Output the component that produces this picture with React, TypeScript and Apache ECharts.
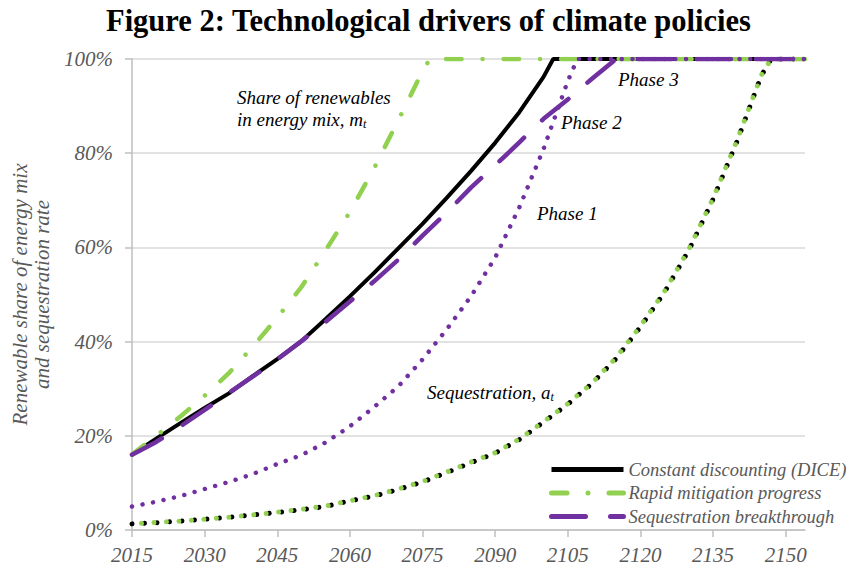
import React, { useEffect, useRef } from "react";
import * as echarts from "echarts";

// ---- Data ----
const xTickYears = [2015, 2030, 2045, 2060, 2075, 2090, 2105, 2120, 2135, 2150];

// Share of renewables in energy mix, m_t
const diceRenewYears = [2015, 2020, 2025, 2030, 2035, 2040, 2045, 2050, 2055, 2060, 2065, 2070, 2075, 2080, 2085, 2090, 2095, 2100, 2102, 2154];
const diceRenewVals = [16, 19.4, 22.7, 25.9, 29.0, 32.7, 36.3, 40.1, 44.8, 49.6, 54.6, 59.8, 65.0, 70.5, 76.2, 82.2, 88.7, 96.2, 100, 100];

const rapidRenewYears = [2015, 2020, 2025, 2030, 2035, 2040, 2045, 2050, 2055, 2060, 2065, 2070, 2075, 2076.5, 2154];
const rapidRenewVals = [16, 20.0, 24.1, 28.5, 33.3, 39.0, 45.1, 51.6, 59.4, 67.5, 76.8, 87.0, 97.4, 100, 100];

const breakRenewYears = [2015, 2020, 2025, 2030, 2035, 2040, 2045, 2050, 2055, 2060, 2065, 2070, 2075, 2080, 2085, 2090, 2095, 2100, 2105, 2110, 2115, 2154];
const breakRenewVals = [16, 18.7, 22.0, 25.5, 29.1, 32.6, 36.2, 40.1, 44.2, 48.5, 52.8, 57.4, 62.5, 67.4, 72.7, 77.4, 82.3, 87.3, 91.4, 95.8, 100, 100];

// Sequestration rate, a_t
const diceSeqYears = [2015, 2020, 2025, 2030, 2035, 2040, 2045, 2050, 2055, 2060, 2065, 2070, 2075, 2080, 2085, 2090, 2095, 2100, 2105, 2110, 2115, 2120, 2125, 2130, 2135, 2140, 2145, 2147, 2154];
const diceSeqVals = [1.3, 1.55, 1.9, 2.3, 2.7, 3.2, 3.7, 4.3, 5.0, 6.2, 7.2, 8.6, 10.2, 12.2, 14.3, 16.3, 19.2, 22.9, 26.7, 31.1, 36.4, 43.1, 50.5, 59.4, 70.2, 82.6, 96.5, 100, 100];

const rapidSeqYears = [2015, 2020, 2025, 2030, 2035, 2040, 2045, 2050, 2055, 2060, 2065, 2070, 2075, 2080, 2085, 2090, 2095, 2100, 2105, 2110, 2115, 2120, 2125, 2130, 2135, 2140, 2145, 2147, 2154];
const rapidSeqVals = [1.3, 1.6, 1.9, 2.3, 2.7, 3.2, 3.8, 4.4, 5.1, 6.2, 7.3, 8.7, 10.3, 12.3, 14.4, 16.4, 19.3, 23.0, 26.8, 31.2, 36.6, 43.3, 50.7, 59.6, 70.4, 82.8, 96.6, 100, 100];

const breakSeqYears = [2015, 2020, 2025, 2030, 2035, 2040, 2045, 2050, 2055, 2060, 2065, 2070, 2075, 2080, 2085, 2090, 2095, 2100, 2105, 2107, 2154];
const breakSeqVals = [5, 6.0, 7.2, 8.7, 10.2, 11.9, 14.0, 15.9, 18.6, 22.0, 26.1, 30.5, 36.2, 42.6, 49.6, 57.8, 68.5, 80.9, 95.3, 100, 100];

const legendNames = ["Constant discounting (DICE)", "Rapid mitigation progress", "Sequestration breakthrough"];

const pairs = (xs: number[], ys: number[]) => xs.map((x, i) => [x, ys[i]]);

const BLACK = "#000000";
const GREEN = "#92D050";
const PURPLE = "#7030A0";
const SERIF = "Liberation Serif";
const GREY_TEXT = "#595959";

export default function App() {
  const ref = useRef<HTMLDivElement>(null);

  useEffect(() => {
    if (!ref.current) return;
    const chart = echarts.init(ref.current, null, { renderer: "svg" });

    const annot = (x: number, y: number, text: string, extra: any = {}) => ({
      type: "text",
      x,
      y,
      z: 100,
      style: {
        text,
        fontFamily: SERIF,
        fontStyle: "italic",
        fontSize: 19,
        fill: "#000",
        verticalAlign: "middle",
        lineHeight: 22,
        rich: {
          sub: { fontSize: 12, fontStyle: "italic", fontFamily: SERIF, lineHeight: 12, verticalAlign: "bottom", fill: "#000" },
        },
        ...extra,
      },
    });

    const option: any = {
      animation: false,
      backgroundColor: "#ffffff",
      title: {
        text: "Figure 2: Technological drivers of climate policies",
        left: 101,
        top: 0,
        textStyle: { fontFamily: SERIF, fontWeight: "bold", fontSize: 30.5, color: "#000" },
      },
      grid: { left: 132, right: 42, top: 59, bottom: 39, containLabel: false },
      legend: {
        data: legendNames,
        orient: "vertical",
        left: 547,
        top: 457,
        itemWidth: 72,
        itemHeight: 14,
        itemGap: 4.5,
        padding: [3, 2, 3, 2],
        backgroundColor: "#ffffff",
        itemStyle: { opacity: 0 },
        lineStyle: { width: 5 },
        textStyle: { fontFamily: SERIF, fontStyle: "italic", fontSize: 18.5, color: GREY_TEXT },
      },
      xAxis: {
        type: "value",
        min: 2015,
        max: 2154,
        axisLine: { show: true, lineStyle: { color: "#bfbfbf", width: 1.5 } },
        axisTick: { show: true, length: 7, customValues: xTickYears, lineStyle: { color: "#bfbfbf", width: 1.5 } },
        axisLabel: {
          customValues: xTickYears,
          formatter: (v: number) => String(v),
          margin: 14,
          fontFamily: SERIF,
          fontStyle: "italic",
          fontSize: 21,
          color: GREY_TEXT,
        },
        splitLine: { show: false },
      },
      yAxis: {
        type: "value",
        min: 0,
        max: 100,
        interval: 20,
        name: "Renewable share of energy mix\nand sequestration rate",
        nameLocation: "middle",
        nameRotate: 90,
        nameGap: 59,
        nameTextStyle: { fontFamily: SERIF, fontStyle: "italic", fontSize: 21, color: GREY_TEXT, lineHeight: 22 },
        axisLine: { show: true, lineStyle: { color: "#bfbfbf", width: 1.5 } },
        axisTick: { show: true, length: 7, lineStyle: { color: "#bfbfbf", width: 1.5 } },
        axisLabel: {
          formatter: "{value}%",
          margin: 19,
          fontFamily: SERIF,
          fontStyle: "italic",
          fontSize: 21,
          color: GREY_TEXT,
        },
        splitLine: { show: true, lineStyle: { color: "#d9d9d9", width: 1.5 } },
      },
      series: [
        {
          name: legendNames[0],
          type: "line",
          data: pairs(diceRenewYears, diceRenewVals),
          symbol: "none",
          color: BLACK,
          lineStyle: { color: BLACK, width: 4 },
          z: 2,
        },
        {
          name: "DICE sequestration",
          type: "line",
          data: pairs(diceSeqYears, diceSeqVals),
          symbol: "none",
          color: BLACK,
          lineStyle: { color: BLACK, width: 5, type: [0.01, 12.5], cap: "round" },
          z: 2,
        },
        {
          name: legendNames[1],
          type: "line",
          data: pairs(rapidRenewYears, rapidRenewVals),
          symbol: "none",
          color: GREEN,
          lineStyle: { color: GREEN, width: 4.5, type: [15.5, 21, 0.01, 21], cap: "round" },
          z: 3,
        },
        {
          name: "Rapid sequestration",
          type: "line",
          data: pairs(rapidSeqYears, rapidSeqVals),
          symbol: "none",
          color: GREEN,
          lineStyle: { color: GREEN, width: 5, type: [0.01, 12.5], cap: "round", dashOffset: 3 },
          z: 3,
        },
        {
          name: legendNames[2],
          type: "line",
          data: pairs(breakRenewYears, breakRenewVals),
          symbol: "none",
          color: PURPLE,
          lineStyle: { color: PURPLE, width: 4.5, type: [34, 25], cap: "round" },
          z: 4,
        },
        {
          name: "Breakthrough sequestration",
          type: "line",
          data: pairs(breakSeqYears, breakSeqVals),
          symbol: "none",
          color: PURPLE,
          lineStyle: { color: PURPLE, width: 4.5, type: [0.01, 10.7], cap: "round" },
          z: 4,
        },
      ],
      graphic: [
        annot(237, 86, "Share of renewables\nin energy mix, m{sub|t}", { verticalAlign: "top" }),
        annot(618, 79, "Phase 3"),
        annot(561, 122, "Phase 2"),
        annot(537, 213, "Phase 1"),
        annot(427, 392, "Sequestration, a{sub|t}"),
      ],
    };

    chart.setOption(option);
    return () => chart.dispose();
  }, []);

  return (
    <div
      ref={ref}
      style={{ position: "absolute", left: 0, top: 0, width: 847, height: 569, background: "#fff" }}
    />
  );
}
